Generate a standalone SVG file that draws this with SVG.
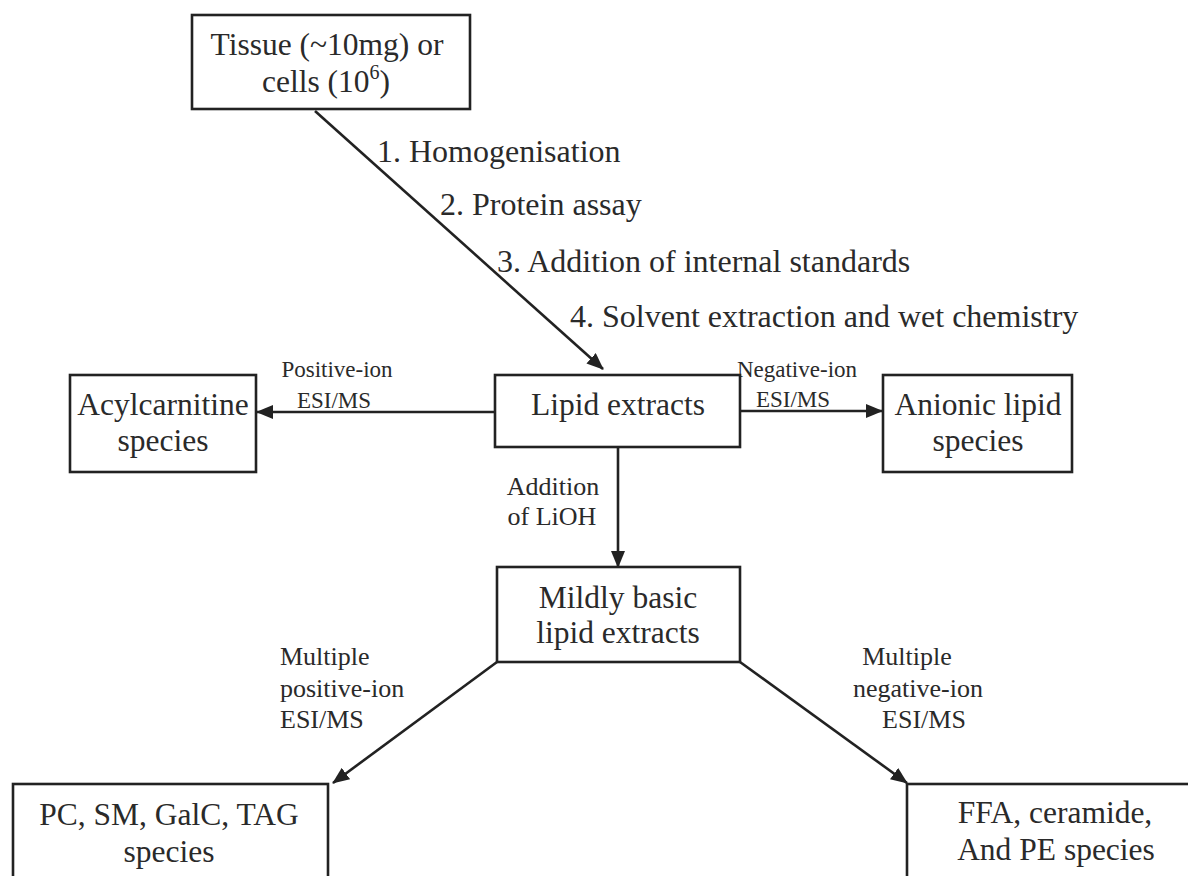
<svg xmlns="http://www.w3.org/2000/svg" width="1188" height="876" viewBox="0 0 1188 876">
<style>
.box{fill:#fff;stroke:#222;stroke-width:2.6}
.t{font-family:"Liberation Serif","Times New Roman",serif;fill:#2a2a2a}
.big{font-size:31.5px}
.step{font-size:32px}
.sm{font-size:23px}
.md{font-size:26px}
.c{text-anchor:middle}
.edge{stroke:#222;stroke-width:2.6;fill:none;marker-end:url(#ah)}
</style>
<defs>
<marker id="ah" markerUnits="userSpaceOnUse" markerWidth="18" markerHeight="14" refX="16" refY="7" orient="auto">
<path d="M0,0 L17,7 L0,14 Z" fill="#222"/>
</marker>
</defs>
<rect width="1188" height="876" fill="#fff"/>
<g id="connectors">
<line class="edge" x1="315" y1="111" x2="603" y2="369"/>
<line class="edge" x1="495" y1="412" x2="257" y2="412"/>
<line class="edge" x1="740" y1="411" x2="882" y2="411"/>
<line class="edge" x1="618" y1="447" x2="618" y2="567"/>
<line class="edge" x1="497" y1="662" x2="333" y2="783"/>
<line class="edge" x1="740" y1="662" x2="907" y2="783"/>
<text class="t step" x="377" y="162">1. Homogenisation</text>
<text class="t step" x="440" y="215">2. Protein assay</text>
<text class="t step" x="497" y="272">3. Addition of internal standards</text>
<text class="t step" x="570" y="327">4. Solvent extraction and wet chemistry</text>
<text class="t sm c" x="337" y="377">Positive-ion</text>
<text class="t sm c" x="334" y="408">ESI/MS</text>
<text class="t sm c" x="797" y="377">Negative-ion</text>
<text class="t sm c" x="793" y="407">ESI/MS</text>
<text class="t md c" x="553" y="495">Addition</text>
<text class="t md c" x="552" y="525">of LiOH</text>
<text class="t md" x="280" y="665">Multiple</text>
<text class="t md" x="280" y="697">positive-ion</text>
<text class="t md" x="280" y="728">ESI/MS</text>
<text class="t md c" x="907" y="665">Multiple</text>
<text class="t md c" x="918" y="697">negative-ion</text>
<text class="t md c" x="924" y="728">ESI/MS</text>
</g>
<g id="tissue">
<rect class="box" x="192" y="15" width="278" height="94"/>
<text class="t big c" x="327" y="55">Tissue (~10mg) or</text>
<text class="t big c" x="326" y="92">cells (10<tspan font-size="20" dy="-13">6</tspan><tspan dy="13">)</tspan></text>
</g>
<g id="lipid">
<rect class="box" x="495" y="375" width="245" height="72"/>
<text class="t big c" x="618" y="415">Lipid extracts</text>
</g>
<g id="acyl">
<rect class="box" x="70" y="375" width="186" height="97"/>
<text class="t big c" x="163" y="415">Acylcarnitine</text>
<text class="t big c" x="163" y="451">species</text>
</g>
<g id="anionic">
<rect class="box" x="883" y="375" width="189" height="97"/>
<text class="t big c" x="978" y="415">Anionic lipid</text>
<text class="t big c" x="978" y="451">species</text>
</g>
<g id="mildly">
<rect class="box" x="497" y="567" width="243" height="95"/>
<text class="t big c" x="618" y="608">Mildly basic</text>
<text class="t big c" x="618" y="643">lipid extracts</text>
</g>
<g id="pc">
<rect class="box" x="13" y="784" width="315" height="110"/>
<text class="t big c" x="169" y="825">PC, SM, GalC, TAG</text>
<text class="t big c" x="169" y="862">species</text>
</g>
<g id="ffa">
<rect class="box" x="907" y="784" width="300" height="110"/>
<text class="t big c" x="1055" y="823">FFA, ceramide,</text>
<text class="t big c" x="1056" y="860">And PE species</text>
</g>
</svg>
